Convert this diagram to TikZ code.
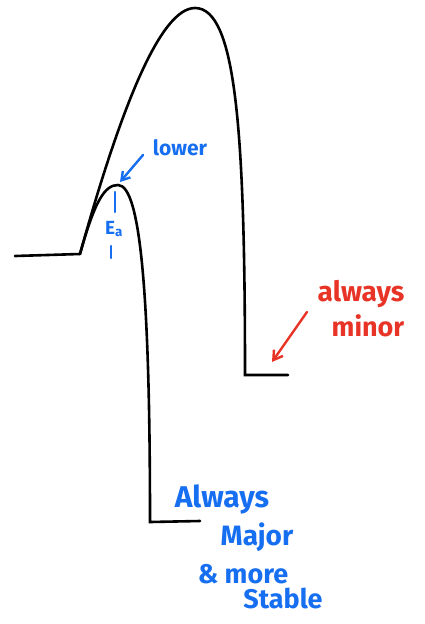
\documentclass[tikz,border=0pt]{standalone}
\usepackage{fontspec}
\setmainfont{Fira Sans}
\usetikzlibrary{arrows.meta}
\definecolor{inkblue}{RGB}{22,110,240}
\definecolor{inkred}{RGB}{232,52,38}
\tikzset{
  curve/.style={line width=2.6pt, line cap=round, black},
  bluepen/.style={line width=2.4pt, line cap=round, inkblue},
  redpen/.style={line width=2.4pt, line cap=round, inkred},
  bluetxt/.style={text=inkblue, inner sep=0pt},
  redtxt/.style={text=inkred, inner sep=0pt},
}
\begin{document}
\begin{tikzpicture}[x=1pt,y=-1pt]
\useasboundingbox (0,0) rectangle (425,624);
% key points
\coordinate (start) at (15,256);
\coordinate (fork) at (80,254);
\coordinate (bigtop) at (195,8);
\coordinate (minorend) at (245,375);
\coordinate (minorright) at (288,375);
\coordinate (smalltop) at (118,185);
\coordinate (majorend) at (150,522);
\coordinate (majorright) at (200,521);
% reactant line
\draw[curve] (start) -- (fork);
% big barrier to minor product
\draw[curve] (fork) .. controls (120,110) and (160,8) .. (bigtop)
  .. controls (236,8) and (245,130) .. (minorend) -- (minorright);
% small barrier to major product
\draw[curve] (fork) .. controls (95,200) and (105,185) .. (smalltop)
  .. controls (141,185) and (150,300) .. (majorend) -- (majorright);
% blue annotations at lower barrier
\node[bluetxt, font=\bfseries\fontsize{21}{24}\selectfont] (lower) at (180,148) {lower};
\coordinate (lowarrS) at (143,155);
\coordinate (lowarrE) at (120,182);
\draw[bluepen, -{Straight Barb[length=8pt,width=10pt]}] (lowarrS) -- (lowarrE);
\coordinate (t1a) at (115,192);
\coordinate (t1b) at (115,212);
\draw[bluepen] (t1a) -- (t1b);
\node[bluetxt, font=\bfseries\fontsize{19}{20}\selectfont] (ea) at (114,229) {E\textsubscript{a}};
\coordinate (t2a) at (111,246);
\coordinate (t2b) at (111,258);
\draw[bluepen] (t2a) -- (t2b);
% red annotation
\node[redtxt, font=\bfseries\fontsize{28}{30}\selectfont] (always) at (361,294) {always};
\node[redtxt, font=\bfseries\fontsize{27}{30}\selectfont] (minor) at (368,326) {minor};
\coordinate (redS) at (307,312);
\coordinate (redE) at (272,362);
\draw[redpen, -{Straight Barb[length=9pt,width=11pt]}] (redS) -- (redE);
% blue annotation at major product
\node[bluetxt, font=\bfseries\fontsize{30}{32}\selectfont] (Always) at (222,499) {Always};
\node[bluetxt, font=\bfseries\fontsize{28}{30}\selectfont] (Major) at (257,537) {Major};
\node[bluetxt, font=\bfseries\fontsize{27}{30}\selectfont] (more) at (243,574) {\& more};
\node[bluetxt, font=\bfseries\fontsize{27}{30}\selectfont] (Stable) at (283,598) {Stable};
\end{tikzpicture}
\end{document}
